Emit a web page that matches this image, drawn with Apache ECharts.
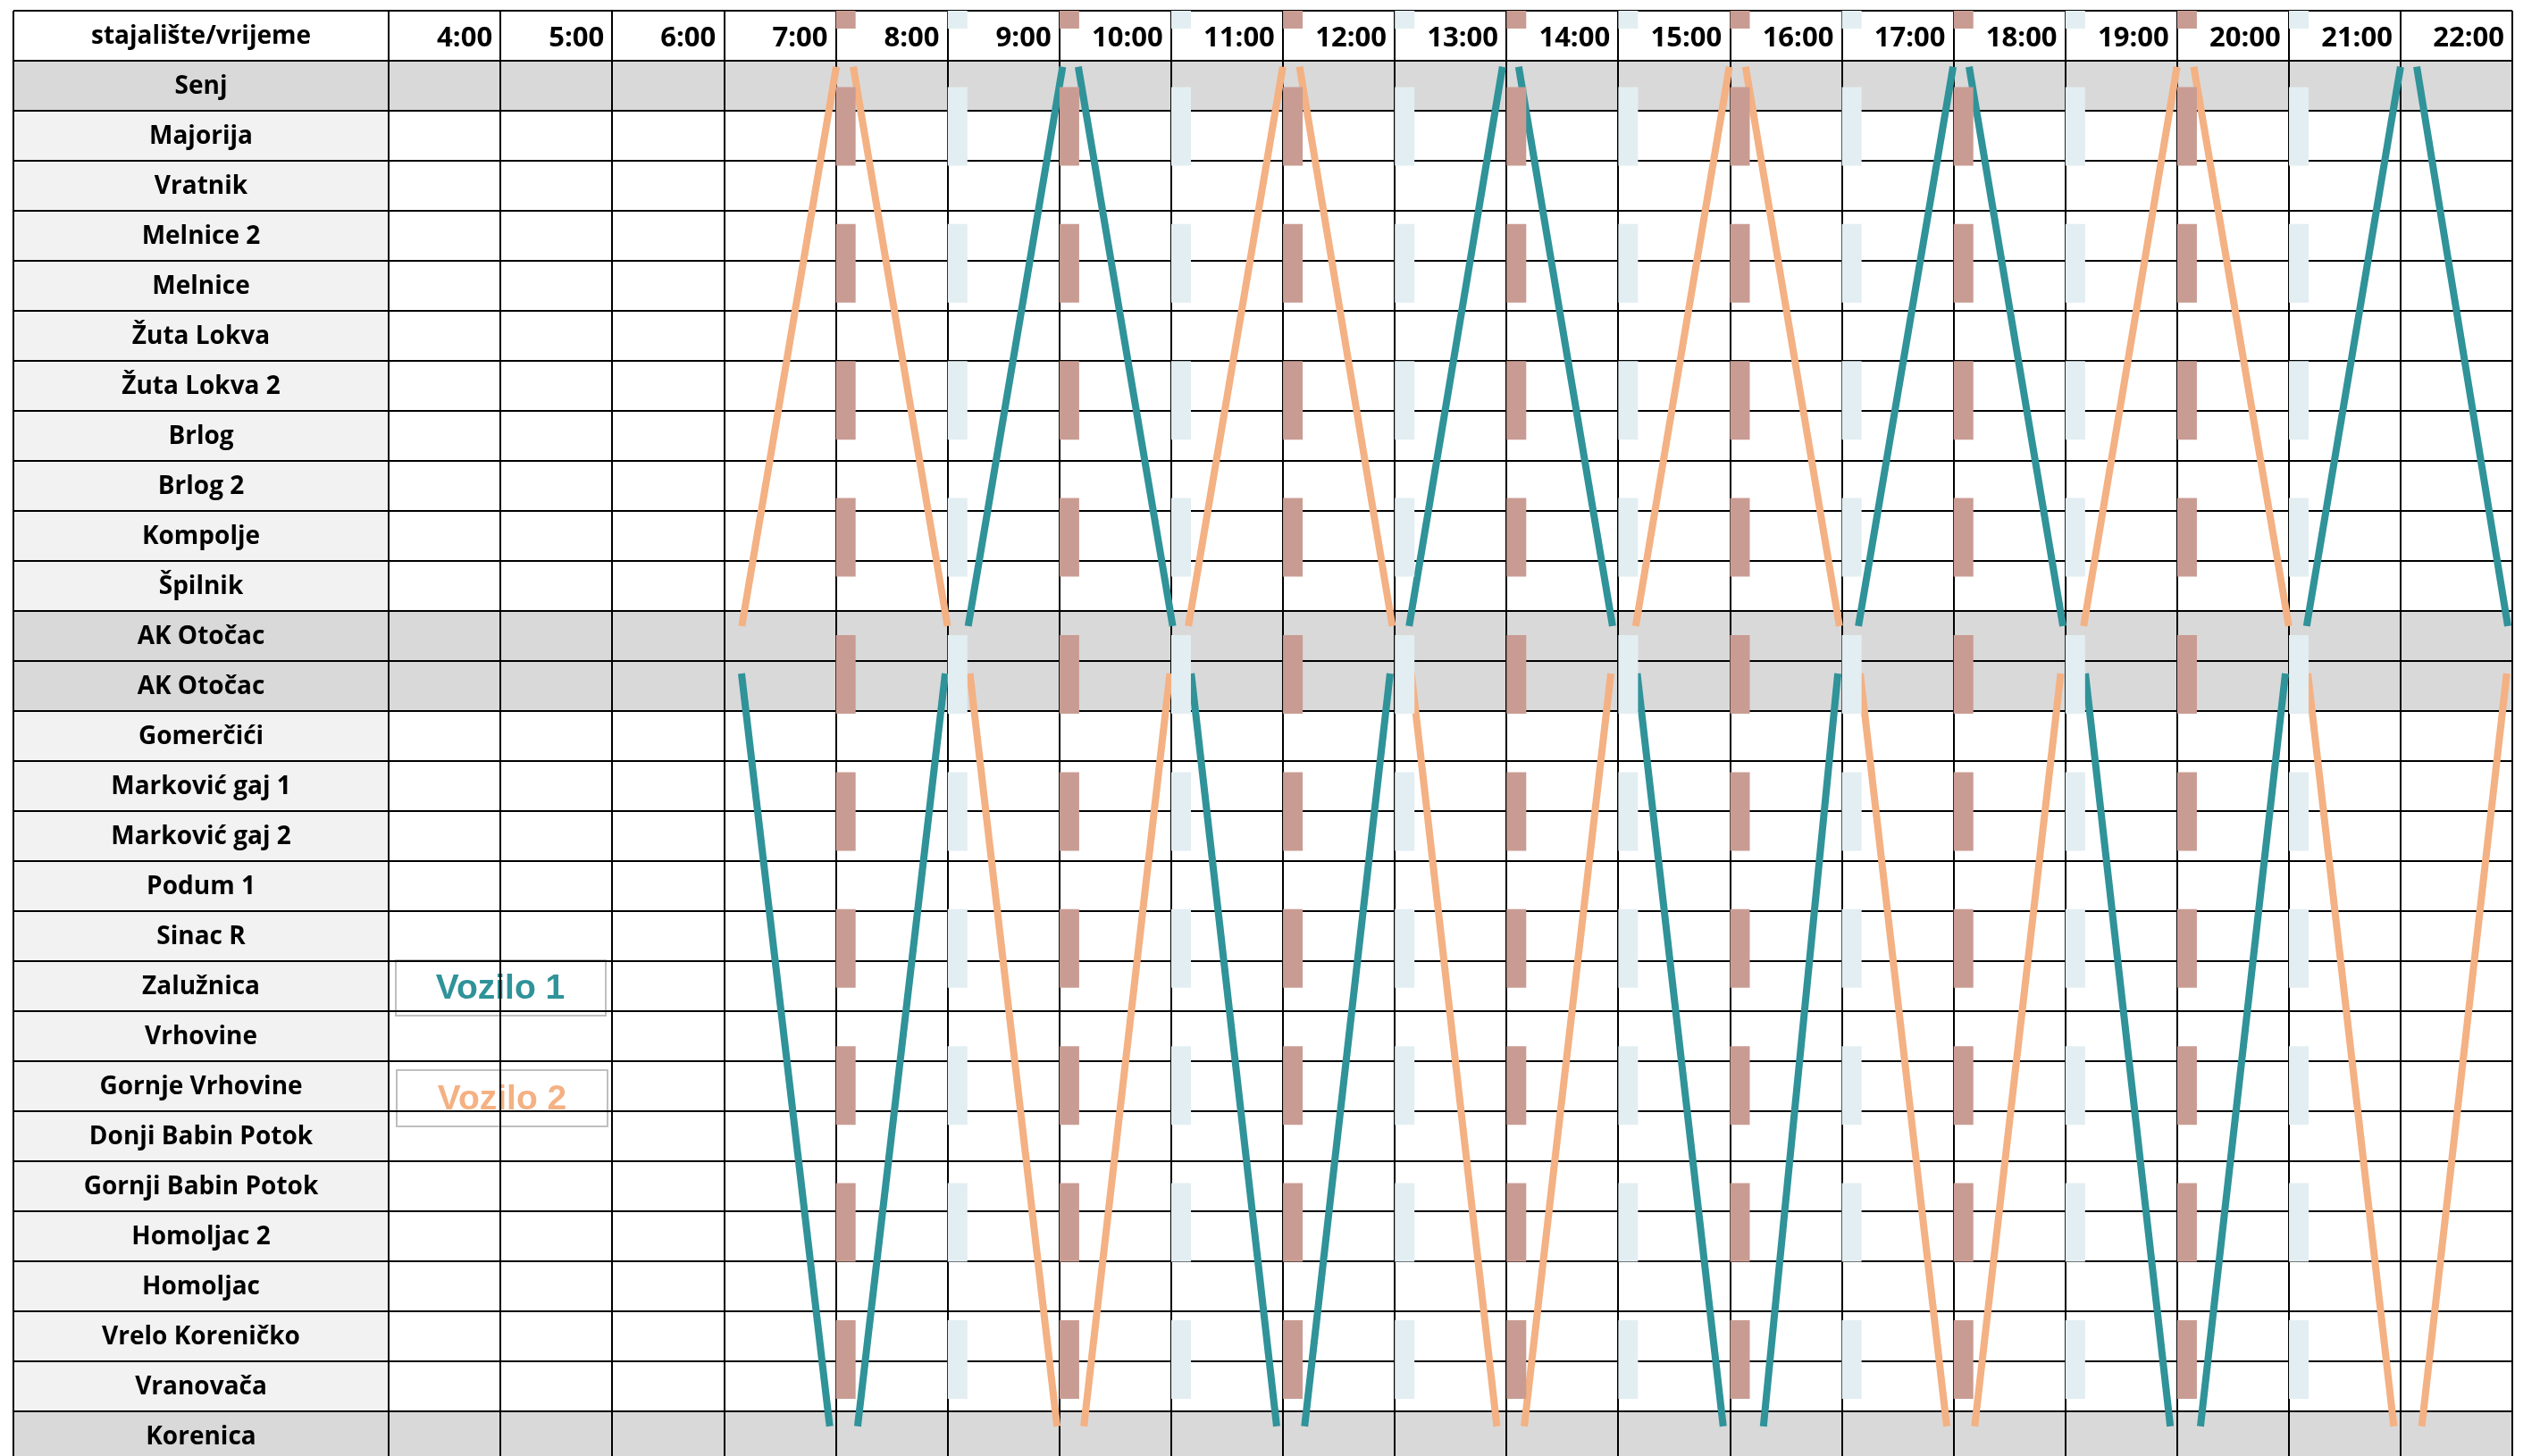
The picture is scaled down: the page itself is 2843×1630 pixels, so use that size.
<!DOCTYPE html>
<html><head><meta charset="utf-8">
<script src="https://cdn.jsdelivr.net/npm/echarts@6/dist/echarts.min.js"></script>
<style>html,body{margin:0;padding:0;background:#fff}#c{width:2843px;height:1630px}</style>
</head><body><div id="c"></div>
<script>
// ---------------- DATA ----------------
const headerLabel = 'stajalište/vrijeme';
const hourLabels = ['4:00','5:00','6:00','7:00','8:00','9:00','10:00','11:00','12:00','13:00','14:00','15:00','16:00','17:00','18:00','19:00','20:00','21:00','22:00'];
const stops = ['Senj','Majorija','Vratnik','Melnice 2','Melnice','Žuta Lokva','Žuta Lokva 2','Brlog','Brlog 2','Kompolje','Špilnik','AK Otočac','AK Otočac','Gomerčići','Marković gaj 1','Marković gaj 2','Podum 1','Sinac R','Zalužnica','Vrhovine','Gornje Vrhovine','Donji Babin Potok','Gornji Babin Potok','Homoljac 2','Homoljac','Vrelo Koreničko','Vranovača','Korenica'];
const highlightedStops = [0, 11, 12, 27];

// Vozilo 1 trips (times in hours)
const v1From = ['AK Otočac','Korenica','AK Otočac','Senj','AK Otočac','Korenica','AK Otočac','Senj','AK Otočac','Korenica','AK Otočac','Senj','AK Otočac','Korenica','AK Otočac','Senj'];
const v1To   = ['Korenica','AK Otočac','Senj','AK Otočac','Korenica','AK Otočac','Senj','AK Otočac','Korenica','AK Otočac','Senj','AK Otočac','Korenica','AK Otočac','Senj','AK Otočac'];
const v1Dep  = [7.157, 8.196, 9.185, 10.17, 11.18, 12.195, 13.13, 14.11, 15.17, 16.30, 17.15, 18.14, 19.18, 20.21, 21.16, 22.145];
const v1Arr  = [7.946, 8.98, 10.03, 11.015, 11.945, 12.96, 13.966, 14.95, 15.94, 16.966, 17.997, 18.98, 19.94, 20.97, 22.0, 22.96];

// Vozilo 2 trips
const v2From = ['AK Otočac','Senj','AK Otočac','Korenica','AK Otočac','Senj','AK Otočac','Korenica','AK Otočac','Senj','AK Otočac','Korenica','AK Otočac','Senj','AK Otočac','Korenica'];
const v2To   = ['Senj','AK Otočac','Korenica','AK Otočac','Senj','AK Otočac','Korenica','AK Otočac','Senj','AK Otočac','Korenica','AK Otočac','Senj','AK Otočac','Korenica','AK Otočac'];
const v2Dep  = [7.16, 8.157, 9.2, 10.22, 11.155, 12.15, 13.15, 14.16, 15.157, 16.14, 17.165, 18.19, 19.165, 20.15, 21.17, 22.19];
const v2Arr  = [8.005, 9.0, 9.98, 10.99, 12.0, 12.98, 13.915, 14.935, 15.995, 16.98, 17.94, 18.96, 20.0, 21.0, 21.94, 22.95];

// marker columns (dashed)
const brownMarkerTimes = [8.09, 10.09, 12.09, 14.09, 16.09, 18.09, 20.09];
const blueMarkerTimes  = [9.09, 11.09, 13.09, 15.09, 17.09, 19.09, 21.09];

// ---------------- STYLE ----------------
const TEAL = '#2F9399', ORANGE = '#F4B183', BROWN = '#C99C93', LBLUE = '#E2EEF2';
const GRAY = '#D9D9D9', LIGHT = '#F2F2F2';
const NROWS = stops.length + 1;
const T0 = 4, T1 = 23;
const FONT = '"Open Sans", "Noto Sans", sans-serif';

function rowOf(i){ return i + 1; } // row 0 = header
function endY(stop, other){
  if (stop === 'Senj') return rowOf(stops.indexOf('Senj')) + 0.12;
  if (stop === 'Korenica') return rowOf(stops.indexOf('Korenica')) + 0.3;
  if (other === 'Senj') return rowOf(stops.indexOf('AK Otočac')) + 0.3;
  return rowOf(stops.lastIndexOf('AK Otočac')) + 0.25;
}
function trips(from, to, dep, arr){
  return dep.map((d, i) => ({ coords: [[d, endY(from[i], to[i])], [arr[i], endY(to[i], from[i])]] }));
}

const chart = echarts.init(document.getElementById('c'), null, {renderer: 'canvas'});
const rowIdx = Array.from({length: NROWS}, (_, i) => [0, i]);
const split = {show: true, showMinLine: true, showMaxLine: true, lineStyle: {color: '#000', width: 2}};

const option = {
  animation: false,
  backgroundColor: '#fff',
  grid: [
    {left: 15, top: 12, width: 420, height: NROWS * 56, containLabel: false, outerBoundsMode: 'none'},
    {left: 435, top: 12, width: 2377, height: NROWS * 56, containLabel: false, outerBoundsMode: 'none'}
  ],
  xAxis: [
    {gridIndex: 0, type: 'value', min: 0, max: 1, interval: 1, z: 1,
     axisLine: {show: false}, axisTick: {show: false}, axisLabel: {show: false}, splitLine: split},
    {gridIndex: 1, type: 'value', min: T0, max: T1, interval: 1, z: 1,
     axisLine: {show: false}, axisTick: {show: false}, axisLabel: {show: false}, splitLine: split}
  ],
  yAxis: [
    {gridIndex: 0, type: 'value', min: 0, max: NROWS, interval: 1, inverse: true, z: 1,
     axisLine: {show: false}, axisTick: {show: false}, axisLabel: {show: false}, splitLine: split},
    {gridIndex: 1, type: 'value', min: 0, max: NROWS, interval: 1, inverse: true, z: 1,
     axisLine: {show: false}, axisTick: {show: false}, axisLabel: {show: false}, splitLine: split}
  ],
  series: [
    { // label column
      type: 'custom', xAxisIndex: 0, yAxisIndex: 0, z: 0, silent: true,
      data: rowIdx,
      renderItem(params, api){
        const r = api.value(1);
        const p0 = api.coord([0, r]), p1 = api.coord([1, r + 1]);
        const isHi = r > 0 && highlightedStops.indexOf(r - 1) >= 0;
        const fill = r === 0 ? '#fff' : (isHi ? GRAY : LIGHT);
        const text = r === 0 ? headerLabel : stops[r - 1];
        return {type: 'group', children: [
          {type: 'rect', shape: {x: p0[0], y: p0[1], width: p1[0] - p0[0], height: p1[1] - p0[1]}, style: {fill}},
          {type: 'text', style: {text, x: (p0[0] + p1[0]) / 2, y: (p0[1] + p1[1]) / 2 + 1,
            align: 'center', verticalAlign: 'middle', fill: '#000',
            font: 'bold 28px ' + FONT}}
        ]};
      }
    },
    { // highlighted rows in time area
      type: 'custom', xAxisIndex: 1, yAxisIndex: 1, z: 0, silent: true,
      data: highlightedStops.map(i => [T0, rowOf(i)]),
      renderItem(params, api){
        const r = api.value(1);
        const p0 = api.coord([T0, r]), p1 = api.coord([T1, r + 1]);
        return {type: 'rect', shape: {x: p0[0], y: p0[1], width: p1[0] - p0[0], height: p1[1] - p0[1]}, style: {fill: GRAY}};
      }
    },
    { // hour labels in header row
      type: 'custom', xAxisIndex: 1, yAxisIndex: 1, z: 0, silent: true,
      data: hourLabels.map((l, i) => [T0 + i, 0]),
      renderItem(params, api){
        const h = api.value(0);
        const p = api.coord([h + 1, 0.5]);
        return {type: 'text', style: {text: hourLabels[params.dataIndex], x: p[0] - 9, y: p[1] + 3,
          align: 'right', verticalAlign: 'middle', fill: '#000', font: 'bold 31px ' + FONT}};
      }
    },
    {
      name: 'Vozilo 1', type: 'lines', coordinateSystem: 'cartesian2d', xAxisIndex: 1, yAxisIndex: 1, z: 3, silent: true,
      lineStyle: {color: TEAL, width: 8, opacity: 1, curveness: 0, cap: 'butt'},
      data: trips(v1From, v1To, v1Dep, v1Arr)
    },
    {
      name: 'Vozilo 2', type: 'lines', coordinateSystem: 'cartesian2d', xAxisIndex: 1, yAxisIndex: 1, z: 3, silent: true,
      lineStyle: {color: ORANGE, width: 8, opacity: 1, curveness: 0, cap: 'butt'},
      data: trips(v2From, v2To, v2Dep, v2Arr)
    },
    ...[[brownMarkerTimes, BROWN], [blueMarkerTimes, LBLUE]].map(([times, color]) => ({
      type: 'custom', xAxisIndex: 1, yAxisIndex: 1, z: 4, silent: true,
      data: times.map(t => [t]),
      renderItem(params, api){
        const t = api.value(0);
        const a = api.coord([t, 0]), b = api.coord([t, NROWS]);
        return {type: 'line', shape: {x1: a[0], y1: a[1], x2: b[0], y2: b[1]},
          style: {stroke: color, lineWidth: 22, lineDash: [88, 65.4], lineDashOffset: 68, lineCap: 'butt'}};
      }
    }))
  ],
  graphic: [
    {type: 'group', left: 442, top: 1074, z: 10, children: [
      {type: 'rect', shape: {x: 0, y: 0, width: 235, height: 62}, style: {fill: '#fff', stroke: '#BFBFBF', lineWidth: 2}},
      {type: 'text', style: {text: 'Vozilo 1', x: 117, y: 32, align: 'center', verticalAlign: 'middle', fill: TEAL,
        font: 'bold 39px "Liberation Sans", Arial, sans-serif'}}
    ]},
    {type: 'group', left: 443, top: 1197, z: 10, children: [
      {type: 'rect', shape: {x: 0, y: 0, width: 236, height: 63}, style: {fill: '#fff', stroke: '#BFBFBF', lineWidth: 2}},
      {type: 'text', style: {text: 'Vozilo 2', x: 118, y: 33, align: 'center', verticalAlign: 'middle', fill: ORANGE,
        font: 'bold 39px "Liberation Sans", Arial, sans-serif'}}
    ]}
  ]
};
chart.setOption(option);
</script>
</body></html>
